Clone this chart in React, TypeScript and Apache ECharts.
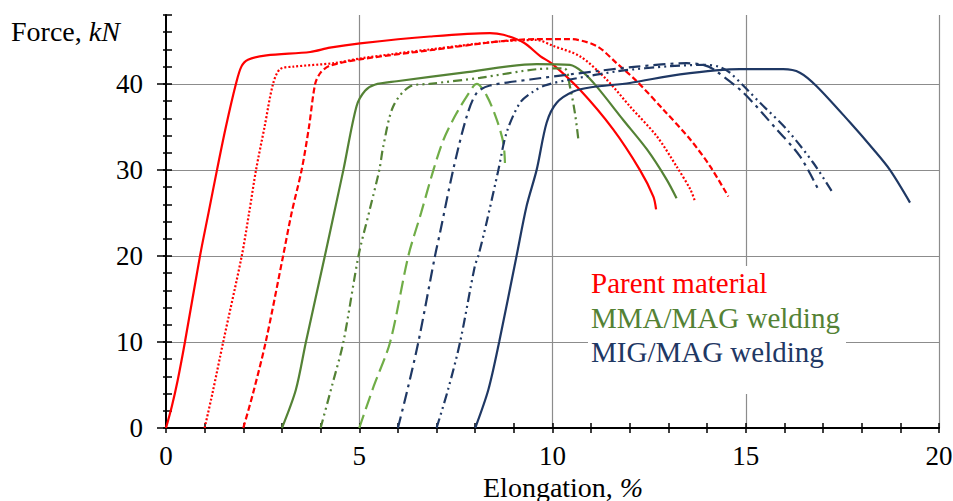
import React, { useEffect, useRef } from "react";
import * as echarts from "echarts";

// ---- Axis ticks / labels ----
const xLabelTicks = [0, 5, 10, 15, 20];
const yLabelTicks = [0, 10, 20, 30, 40];
const xMin = 0, xMax = 20;
const yMin = 0, yMax = 48;

const legendLabels = ["Parent material", "MMA/MAG welding", "MIG/MAG welding"];
const xTitle = "Elongation, ";
const xTitleUnit = "%";
const yTitle = "Force, ";
const yTitleUnit = "kN";

// ---- Curves: [elongation %, force kN] ----
const parentSolid = [
  [0, 0], [0.15, 2.5], [0.3, 5.5], [0.49, 10], [0.88, 20], [1.1, 25], [1.32, 30], [1.55, 35], [1.81, 40],
  [1.95, 42], [2.12, 42.8], [2.6, 43.3], [3.73, 43.7], [4.24, 44.2], [5.02, 44.7], [6.83, 45.5],
  [8.38, 45.9], [8.73, 45.7], [9.25, 44.8], [9.69, 43.2], [10.0, 42.3], [10.71, 39.3], [11.57, 34.7],
  [12.26, 30.0], [12.61, 26.9], [12.68, 25.4],
];
const parentDotted = [
  [1, 0], [1.2, 4], [1.48, 10], [1.96, 20], [2.15, 25], [2.33, 30], [2.55, 35], [2.77, 40], [2.95, 41.7],
  [3.3, 42.0], [4.33, 42.4], [5.1, 43.0], [6.83, 44.0], [8.56, 44.9], [9.59, 45.1], [10.02, 44.4],
  [10.71, 43.2], [11.4, 40.5], [12.0, 37.4], [12.7, 33.9], [13.21, 30.4], [13.57, 27.7], [13.69, 26.3],
];
const parentDashed = [
  [2, 0], [2.25, 4], [2.58, 10], [3.03, 20], [3.25, 25], [3.51, 30], [3.7, 35], [3.86, 40], [4.0, 41.3],
  [4.24, 42.1], [5.1, 42.9], [6.83, 43.9], [8.56, 44.9], [9.59, 45.2], [10.45, 45.2], [11.14, 44.4],
  [11.66, 42.4], [12.18, 40.3], [12.87, 37.0], [13.57, 33.5], [14.08, 30.4], [14.55, 26.9],
];
const mmaSolid = [
  [3, 0], [3.36, 4.45], [3.62, 10], [4.11, 20], [4.35, 25], [4.59, 30], [4.93, 37.4], [5.15, 39.2],
  [5.4, 39.9], [5.97, 40.3], [7.69, 41.3], [9.59, 42.3], [10.45, 42.2], [10.8, 41.3], [11.14, 39.7],
  [11.83, 35.8], [12.44, 32.4], [12.95, 28.9], [13.21, 26.7],
];
const mmaDashDotDot = [
  [4, 0], [4.3, 5], [4.59, 10], [4.98, 20], [5.25, 25], [5.52, 30], [5.62, 32.7], [5.88, 37.4],
  [6.31, 39.7], [6.83, 40.0], [8.12, 40.7], [9.59, 41.7], [10.3, 41.8], [10.45, 39.7], [10.58, 36.6],
  [10.67, 33.5],
];
const mmaDashed = [
  [5, 0], [5.37, 4.8], [5.8, 10], [6.27, 20], [6.6, 25], [6.92, 30], [7.18, 33.5], [7.52, 36.6],
  [7.95, 39.7], [8.04, 40.0], [8.3, 38.6], [8.56, 35.8], [8.73, 33.1], [8.77, 30.8],
];
const migDashDot = [
  [6, 0], [6.25, 4.5], [6.53, 10], [6.96, 20], [7.09, 22.7], [7.43, 30], [7.78, 36.2], [8.04, 38.95],
  [8.38, 39.8], [9.42, 40.5], [10.45, 41.1], [12.18, 42.0], [13.47, 42.4], [13.9, 42.2], [14.16, 41.7],
  [14.93, 39.0], [15.8, 34.7], [16.4, 31.6], [16.88, 27.7],
];
const migDashDotDot = [
  [7, 0], [7.3, 4.5], [7.61, 10], [7.99, 18.8], [8.08, 20], [8.29, 23.8], [8.6, 30], [8.81, 34.3],
  [9.16, 37.8], [9.5, 39.1], [9.8, 39.8], [10.45, 40.5], [11.75, 41.5], [13.04, 42.05], [13.9, 42.2],
  [14.3, 42.0], [14.59, 41.3], [15.37, 37.8], [16.06, 34.7], [16.75, 30.8], [17.27, 27.2],
];
const migSolid = [
  [8, 0], [8.34, 4.45], [8.62, 10], [9.07, 20], [9.33, 25.8], [9.59, 30], [9.85, 35.5], [10.11, 37.8],
  [10.54, 39.1], [11.0, 39.6], [12.0, 40.1], [13.3, 41.1], [14.85, 41.7], [15.97, 41.7], [16.4, 41.3],
  [16.84, 39.7], [17.7, 35.5], [18.3, 32.4], [18.73, 30.0], [19.25, 26.2],
];

const RED = "#ff0000";
const GREEN = "#548235";
const LIGHTGREEN = "#70ad47";
const NAVY = "#1f3864";
const FONT = '"Liberation Serif", "Times New Roman", serif';

const curves = [
  { name: legendLabels[0], data: parentSolid, color: RED, dash: "solid" as any },
  { name: legendLabels[0], data: parentDotted, color: RED, dash: [2, 2] },
  { name: legendLabels[0], data: parentDashed, color: RED, dash: [6, 3] },
  { name: legendLabels[1], data: mmaSolid, color: GREEN, dash: "solid" as any },
  { name: legendLabels[1], data: mmaDashDotDot, color: GREEN, dash: [9, 4, 2, 4, 2, 4] },
  { name: legendLabels[1], data: mmaDashed, color: LIGHTGREEN, dash: [14, 6] },
  { name: legendLabels[2], data: migDashDot, color: NAVY, dash: [12, 5, 3, 5] },
  { name: legendLabels[2], data: migDashDotDot, color: NAVY, dash: [10, 4, 2, 4, 2, 4] },
  { name: legendLabels[2], data: migSolid, color: NAVY, dash: "solid" as any },
];

export default function App() {
  const ref = useRef<HTMLDivElement>(null);

  useEffect(() => {
    if (!ref.current) return;
    const chart = echarts.init(ref.current, undefined, { renderer: "svg" });
    const GRID = "#8c8c8c";
    const xSplitColors = Array.from({ length: xMax - xMin + 1 }, (_, i) =>
      xLabelTicks.includes(xMin + i) && xMin + i !== xMin ? GRID : "rgba(0,0,0,0)"
    );
    const ySplitColors = Array.from({ length: (yMax - yMin) / 2 + 1 }, (_, i) =>
      yLabelTicks.includes(yMin + i * 2) && yMin + i * 2 !== yMin ? GRID : "rgba(0,0,0,0)"
    );
    const labelStyle = { fontFamily: FONT, fontSize: 27, color: "#000" };

    chart.setOption({
      animation: false,
      grid: { left: 166, right: 14, top: 15, bottom: 73, containLabel: false, outerBoundsMode: "none" },
      xAxis: [
        {
          type: "value", min: xMin, max: xMax, interval: 1,
          axisLine: { show: true, lineStyle: { color: "#000", width: 2 } },
          axisTick: { show: true, inside: false, length: 5, lineStyle: { color: "#000", width: 1.5 } },
          axisLabel: {
            ...labelStyle, margin: 14,
            formatter: (v: number) => (xLabelTicks.includes(v) ? String(v) : ""),
          },
          splitLine: { show: true, lineStyle: { color: xSplitColors, width: 1.2 } },
        },
        {
          type: "value", min: xMin, max: xMax, interval: 1, position: "bottom",
          axisLine: { show: false },
          axisTick: { show: true, inside: true, length: 5, lineStyle: { color: "#000", width: 1.5 } },
          axisLabel: { show: false },
          splitLine: { show: false },
        },
      ],
      yAxis: [
        {
          type: "value", min: yMin, max: yMax, interval: 2,
          axisLine: { show: true, lineStyle: { color: "#000", width: 2 } },
          axisTick: { show: true, inside: false, length: 3, lineStyle: { color: "#000", width: 1.5 } },
          axisLabel: {
            ...labelStyle, margin: 23,
            formatter: (v: number) => (yLabelTicks.includes(v) ? String(v) : ""),
          },
          splitLine: { show: true, lineStyle: { color: ySplitColors, width: 1.2 } },
        },
        {
          type: "value", min: yMin, max: yMax, interval: 2, position: "left",
          axisLine: { show: false },
          axisTick: { show: true, inside: true, length: 6, lineStyle: { color: "#000", width: 1.5 } },
          axisLabel: { show: false },
          splitLine: { show: false },
        },
        {
          type: "value", min: yMin, max: yMax, interval: 10, position: "left",
          axisLine: { show: false },
          axisTick: { show: true, inside: false, length: 9, customValues: yLabelTicks, lineStyle: { color: "#000", width: 1.5 } },
          axisLabel: { show: false },
          splitLine: { show: false },
        },
      ],
      series: curves.map((c) => ({
        type: "line",
        name: c.name,
        data: c.data,
        xAxisIndex: 0,
        yAxisIndex: 0,
        showSymbol: false,
        symbol: "none",
        smooth: 0.3,
        z: 3,
        lineStyle: { color: c.color, width: 2.2, type: c.dash },
      })),
      graphic: [
        { type: "rect", z: 10, shape: { x: 588, y: 266, width: 258, height: 128 }, style: { fill: "#fff" } },
        {
          type: "text", z: 11, x: 591, y: 283,
          style: { text: legendLabels[0], fill: RED, fontFamily: FONT, fontSize: 29, verticalAlign: "middle" },
        },
        {
          type: "text", z: 11, x: 591, y: 317.5,
          style: { text: legendLabels[1], fill: GREEN, fontFamily: FONT, fontSize: 29, verticalAlign: "middle" },
        },
        {
          type: "text", z: 11, x: 591, y: 351.7,
          style: { text: legendLabels[2], fill: NAVY, fontFamily: FONT, fontSize: 29, verticalAlign: "middle" },
        },
        {
          type: "text", z: 11, x: 11, y: 31,
          style: {
            text: "{a|" + yTitle + "}{b|" + yTitleUnit + "}",
            fontFamily: FONT, fontSize: 28, fill: "#000", verticalAlign: "middle",
            rich: {
              a: { fontFamily: FONT, fontSize: 28, color: "#000" },
              b: { fontFamily: FONT, fontSize: 28, color: "#000", fontStyle: "italic" },
            },
          },
        },
        {
          type: "text", z: 11, x: 483, y: 487,
          style: {
            text: "{a|" + xTitle + "}{b|" + xTitleUnit + "}",
            fontFamily: FONT, fontSize: 28, fill: "#000", verticalAlign: "middle",
            rich: {
              a: { fontFamily: FONT, fontSize: 28, color: "#000" },
              b: { fontFamily: FONT, fontSize: 28, color: "#000", fontStyle: "italic" },
            },
          },
        },
      ],
    });
    return () => chart.dispose();
  }, []);

  return (
    <div
      ref={ref}
      style={{ position: "fixed", left: 0, top: 0, width: 953, height: 501, background: "#fff" }}
    />
  );
}
